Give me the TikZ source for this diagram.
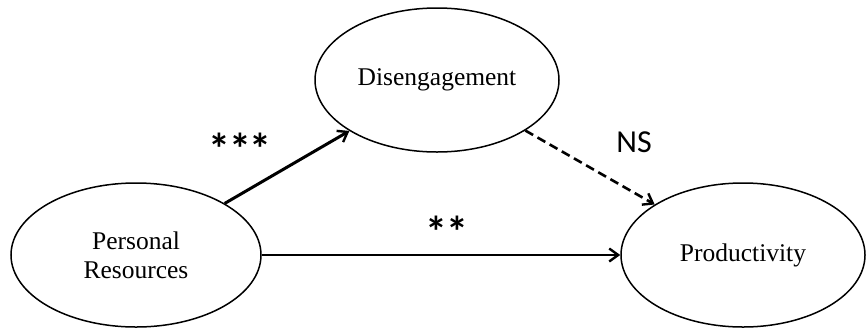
\documentclass[tikz,border=0pt]{standalone}
\usepackage{fontspec}
\setmainfont{Liberation Serif}
\newfontfamily\labelfont{Carlito}
\usetikzlibrary{shapes.geometric,arrows.meta}
\newcommand{\sigstar}{\textbf{*}}
\newcommand{\starsep}{\kern-1.5pt}
\begin{document}
\begin{tikzpicture}[x=1pt,y=-1pt,
  construct/.style={ellipse,draw,line width=1.5pt,inner sep=0pt,
    minimum width=250pt,minimum height=144pt,
    font=\fontsize{25.5}{29}\selectfont,align=center},
  path/.style={line width=2.6pt,-{Straight Barb[length=9pt,width=13pt,line width=2.4pt]}},
  sig/.style={font=\labelfont\fontsize{32}{36}\selectfont,anchor=base,inner sep=0pt},
  stars/.style={font=\labelfont\fontsize{44}{50}\selectfont,anchor=base,inner sep=0pt}]
  \useasboundingbox (0,0) rectangle (867,330);
  \node[construct] (pr) at (136,255) {Personal\\Resources};
  \node[construct,minimum width=244pt] (dis) at (437,80) {Disengagement};
  \node[construct,minimum width=244pt] (prod) at (743,255) {Productivity};
  \draw[path,line width=3pt] (pr) -- (dis);
  \draw[path,dash pattern=on 9pt off 5pt] (dis) -- (prod);
  \draw[path] (pr) -- (prod);
  \node[stars] (s3) at (240,164) {\sigstar\starsep\sigstar\starsep\sigstar};
  \node[stars] (s2) at (447,247) {\sigstar\starsep\sigstar};
  \node[sig] (ns) at (634,152) {NS};
\end{tikzpicture}
\end{document}
